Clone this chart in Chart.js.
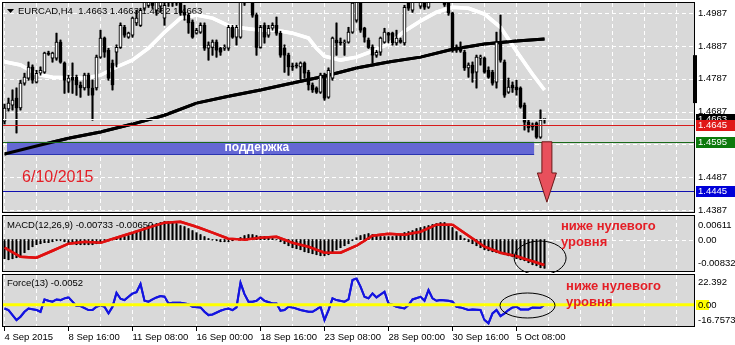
<!DOCTYPE html>
<html>
<head>
<meta charset="utf-8">
<script src="https://cdn.jsdelivr.net/npm/chart.js@4.4.0/dist/chart.umd.min.js"></script>
<style>
  body { margin: 0; background: #fff; width: 735px; height: 345px; overflow: hidden; position: relative; }
  canvas { position: absolute; left: 0; }
</style>
</head>
<body>
<canvas id="price" width="735" height="214" style="top:0"></canvas>
<canvas id="macd" width="735" height="59" style="top:214px"></canvas>
<canvas id="force" width="735" height="72" style="top:273px"></canvas>
<script>
// EURCAD H4 candles, bar 0 = 4 Sep 2015 00:00
const opens = [1.4658,1.4695,1.4707,1.4728,1.4698,1.4774,1.4789,1.4823,1.4777,1.4804,
  1.4807,1.4865,1.4850,1.4850,1.4899,1.4835,1.4777,1.4792,1.4792,1.4768,
  1.4759,1.4798,1.4759,1.4759,1.4853,1.4911,1.4874,1.4835,1.4868,1.4883,
  1.4944,1.4914,1.4920,1.4957,1.4950,1.5002,1.5011,1.5036,1.4996,1.5008,
  1.4972,1.5021,1.5033,1.5018,1.5018,1.4990,1.4981,1.4960,1.4926,1.4929,
  1.4950,1.4880,1.4883,1.4899,1.4880,1.4880,1.4880,1.4944,1.4914,1.4914,
  1.5018,1.5036,1.5018,1.4981,1.4883,1.4950,1.4920,1.4941,1.4950,1.4926,
  1.4880,1.4859,1.4826,1.4829,1.4823,1.4835,1.4807,1.4768,1.4759,1.4746,
  1.4798,1.4731,1.4789,1.4905,1.4899,1.4896,1.4899,1.4929,1.4966,1.5027,
  1.4941,1.4905,1.4883,1.4859,1.4868,1.4899,1.4926,1.4926,1.4896,1.4905,
  1.4896,1.5021,1.4996,1.5033,1.5008,1.5021,1.5005,1.5027,1.5039,1.5036,
  1.5033,1.5018,1.4987,1.4880,1.4883,1.4868,1.4820,1.4829,1.4807,1.4850,
  1.4850,1.4813,1.4807,1.4777,1.4899,1.4838,1.4746,1.4768,1.4762,1.4759,
  1.4707,1.4655,1.4646,1.4652,1.4609,1.4663];
const highs = [1.4710,1.4728,1.4753,1.4759,1.4783,1.4804,1.4838,1.4829,1.4813,1.4823,
  1.4868,1.4871,1.4868,1.4926,1.4905,1.4838,1.4798,1.4835,1.4798,1.4777,
  1.4804,1.4804,1.4783,1.4859,1.4935,1.4914,1.4880,1.4844,1.4890,1.4957,
  1.4950,1.4929,1.4975,1.4996,1.5002,1.5045,1.5051,1.5045,1.5036,1.5033,
  1.5018,1.5045,1.5042,1.5039,1.5027,1.5011,1.4987,1.4966,1.4941,1.4957,
  1.4957,1.4899,1.4905,1.4905,1.4883,1.4890,1.4950,1.4950,1.4950,1.5051,
  1.5057,1.5051,1.5027,1.4987,1.4950,1.4957,1.4950,1.4957,1.4975,1.4932,
  1.4890,1.4865,1.4835,1.4835,1.4838,1.4838,1.4813,1.4774,1.4762,1.4804,
  1.4804,1.4820,1.4914,1.4957,1.4911,1.4905,1.4944,1.5036,1.5057,1.5042,
  1.4944,1.4911,1.4890,1.4874,1.4914,1.4941,1.4929,1.4929,1.4935,1.4911,
  1.5011,1.5039,1.5045,1.5057,1.5027,1.5027,1.5027,1.5051,1.5051,1.5045,
  1.5042,1.5027,1.4990,1.4890,1.4899,1.4874,1.4835,1.4838,1.4859,1.4859,
  1.4853,1.4823,1.4813,1.4929,1.4981,1.4844,1.4789,1.4777,1.4783,1.4762,
  1.4713,1.4661,1.4652,1.4655,1.4692,1.4663];
const lows = [1.4649,1.4689,1.4692,1.4622,1.4692,1.4768,1.4783,1.4774,1.4774,1.4798,
  1.4804,1.4859,1.4838,1.4844,1.4835,1.4743,1.4746,1.4743,1.4737,1.4731,
  1.4753,1.4737,1.4661,1.4753,1.4850,1.4853,1.4783,1.4753,1.4823,1.4880,
  1.4914,1.4911,1.4914,1.4950,1.4947,1.4996,1.5005,1.5002,1.4981,1.4990,
  1.4950,1.5008,1.5008,1.5011,1.4981,1.4966,1.4926,1.4911,1.4923,1.4926,
  1.4874,1.4844,1.4859,1.4853,1.4859,1.4874,1.4874,1.4911,1.4890,1.4911,
  1.5011,1.5021,1.4975,1.4859,1.4880,1.4896,1.4914,1.4935,1.4920,1.4853,
  1.4807,1.4798,1.4813,1.4820,1.4783,1.4789,1.4753,1.4746,1.4743,1.4743,
  1.4722,1.4728,1.4783,1.4859,1.4890,1.4859,1.4896,1.4926,1.4960,1.4929,
  1.4899,1.4880,1.4835,1.4853,1.4859,1.4896,1.4896,1.4890,1.4890,1.4896,
  1.4890,1.4996,1.4990,1.5027,1.5002,1.4999,1.5002,1.5021,1.5027,1.5021,
  1.5008,1.4981,1.4868,1.4868,1.4868,1.4813,1.4792,1.4777,1.4759,1.4829,
  1.4804,1.4789,1.4768,1.4759,1.4838,1.4731,1.4743,1.4746,1.4737,1.4698,
  1.4631,1.4625,1.4631,1.4606,1.4606,1.4652];
const closes = [1.4698,1.4713,1.4722,1.4698,1.4774,1.4792,1.4823,1.4783,1.4804,1.4813,
  1.4865,1.4862,1.4865,1.4899,1.4838,1.4783,1.4789,1.4783,1.4768,1.4759,
  1.4798,1.4759,1.4737,1.4853,1.4911,1.4868,1.4789,1.4768,1.4883,1.4950,
  1.4920,1.4926,1.4972,1.4972,1.4996,1.5033,1.5042,1.5011,1.5027,1.5021,
  1.5011,1.5036,1.5018,1.5030,1.4987,1.4981,1.4957,1.4914,1.4935,1.4950,
  1.4880,1.4890,1.4899,1.4874,1.4868,1.4883,1.4944,1.4914,1.4944,1.5021,
  1.5042,1.5027,1.4981,1.4883,1.4944,1.4914,1.4941,1.4950,1.4926,1.4859,
  1.4859,1.4823,1.4823,1.4826,1.4835,1.4804,1.4768,1.4753,1.4746,1.4798,
  1.4728,1.4813,1.4911,1.4896,1.4896,1.4899,1.4929,1.5018,1.5042,1.4935,
  1.4914,1.4883,1.4859,1.4868,1.4911,1.4929,1.4920,1.4896,1.4911,1.4899,
  1.5005,1.5002,1.5033,1.5045,1.5021,1.5005,1.5021,1.5042,1.5033,1.5027,
  1.5014,1.4987,1.4874,1.4874,1.4871,1.4820,1.4829,1.4804,1.4853,1.4853,
  1.4807,1.4792,1.4774,1.4899,1.4844,1.4737,1.4762,1.4759,1.4753,1.4701,
  1.4655,1.4637,1.4640,1.4609,1.4661,1.4663];

// moving averages (white = fast, black = slow), read at sample bars
const maFastBars = [0,4,8,12,16,20,24,28,32,36,40,44,48,52,56,60,64,68,72,76,78,80,84,88,92,96,100,104,108,112,116,120,124,128,132,135];
const maFast = [1.4839,1.4829,1.4801,1.4792,1.4790,1.4789,1.4798,1.4823,1.4844,1.4880,1.4929,1.4972,1.4981,1.4972,1.4949,1.4941,1.4935,1.4935,1.4926,1.4911,1.4880,1.4856,1.4844,1.4853,1.4871,1.4893,1.4932,1.4963,1.4990,1.5005,1.5002,1.4984,1.4944,1.4871,1.4801,1.4753];
const maSlowBars = [0,8,16,24,32,40,48,56,64,72,80,88,96,104,112,120,128,135];
const maSlow = [1.4558,1.4582,1.4606,1.4625,1.4649,1.4676,1.4713,1.4734,1.4753,1.4774,1.4795,1.4820,1.4838,1.4853,1.4877,1.4893,1.4902,1.4908];

// MACD(12,26,9): main as histogram, signal as line
const macdHist = [-0.00490,-0.00516,-0.00490,-0.00464,-0.00413,-0.00335,-0.00258,-0.00181,-0.00129,-0.00103,
  -0.00077,-0.00077,-0.00052,-0.00026,-0.00026,-0.00052,-0.00077,-0.00103,-0.00129,-0.00129,
  -0.00129,-0.00129,-0.00129,-0.00103,-0.00052,-0.00026,-0.00026,0.00005,0.00026,0.00052,
  0.00077,0.00103,0.00155,0.00206,0.00258,0.00310,0.00361,0.00387,0.00413,0.00439,
  0.00464,0.00464,0.00439,0.00413,0.00361,0.00335,0.00284,0.00232,0.00181,0.00129,
  0.00077,0.00026,-0.00005,-0.00026,-0.00052,-0.00052,-0.00052,-0.00026,0.00005,0.00052,
  0.00103,0.00129,0.00129,0.00103,0.00077,0.00077,0.00052,0.00026,-0.00005,-0.00052,
  -0.00103,-0.00155,-0.00206,-0.00232,-0.00258,-0.00310,-0.00335,-0.00361,-0.00387,-0.00413,
  -0.00413,-0.00387,-0.00310,-0.00258,-0.00206,-0.00155,-0.00103,-0.00026,0.00052,0.00103,
  0.00129,0.00155,0.00129,0.00103,0.00077,0.00077,0.00077,0.00077,0.00103,0.00129,
  0.00181,0.00206,0.00232,0.00284,0.00310,0.00335,0.00361,0.00387,0.00413,0.00439,
  0.00439,0.00387,0.00310,0.00206,0.00103,0.00026,-0.00052,-0.00103,-0.00155,-0.00206,
  -0.00258,-0.00284,-0.00310,-0.00335,-0.00361,-0.00387,-0.00413,-0.00439,-0.00490,-0.00516,
  -0.00542,-0.00593,-0.00645,-0.00671,-0.00722,-0.00733];
const signalBars = [0,4,8,12,16,20,24,28,32,36,40,44,48,52,56,60,64,68,72,76,80,84,88,92,96,100,104,108,112,116,120,124,128,132,135];
const signalVals = [-0.00206,-0.00439,-0.00464,-0.00284,-0.00103,-0.00052,-0.00077,0.00052,0.00181,0.00310,
  0.00439,0.00464,0.00335,0.00181,0.00026,0,0.00052,0.00077,-0.00077,-0.00181,
  -0.00335,-0.00335,-0.00155,0.00103,0.00155,0.00129,0.00206,0.00387,0.00387,0.00103,
  -0.00181,-0.00335,-0.00426,-0.00555,-0.00650];

// Force(13)
const forceBars = [0,1,3,4,5,6,8,9,10,11,12,13,14,15,16,17,18,19,21,22,23,24,25,26,27,28,29,30,
  31,32,33,34,35,36,37,38,39,40,41,42,44,46,47,49,50,51,52,54,55,56,57,58,59,60,61,62,63,64,65,
  67,68,69,70,71,72,74,76,77,78,79,80,81,82,83,85,86,87,88,89,90,91,92,93,95,96,97,98,
  100,101,102,104,105,106,107,108,109,111,112,113,114,116,117,119,120,121,122,123,124,125,126,127,128,129,131,132,134,135];
const forceVals = [-2.8,-4.0,-11.5,-9.0,-5.3,-2.8,-4.0,-5.3,4.0,3.0,2.3,4.0,3.5,4.8,5.5,2.3,-1.0,-1.0,
  -4.0,-4.0,-1.5,-0.5,-1.5,-6.5,-1.5,9.0,4.5,3.5,
  6.0,8.5,9.5,15.6,3.0,2.3,4.0,5.5,6.5,6.0,1.0,1.5,
  1.5,0.5,-1.5,-2.0,-5.3,-7.8,-7.3,
  -4.5,-3.5,-2.8,-4.0,-2.0,16.6,8.0,2.3,2.3,3.0,5.5,3.0,
  1.0,1.0,-4.5,-4.0,-1.5,-2.0,
  -4.0,-5.3,-5.3,-3.5,-1.5,-11.5,-4.0,4.8,3.5,
  2.3,4.0,18.6,19.8,13.6,6.0,4.8,8.5,5.5,
  9.8,1.0,0,-1.5,-2.8,-0.25,4.0,
  6.0,3.0,11.0,4.8,3.0,3.5,3.0,2.3,-1.5,-2.0,-4.0,-3.5,
  -4.0,-11.5,-14.0,-6.5,-4.0,-8.5,-6.5,-4.0,-2.0,-1.5,-3.5,-3.5,-2.0,-2.3,-0.0052];

// axes
const priceTicks = [1.4387,1.4487,1.4587,1.4687,1.4787,1.4887,1.4987];
const macdTicks = [0.00611, 0, -0.00832];
const macdTickText = ['0.00611', '0.00', '-0.00832'];
const forceTicks = [22.392, 0, -16.7573];
const forceTickText = ['22.392', '0.00', '-16.7573'];
const gridBars = [0,8,16,24,32,40,48,56,64,72,80,88,96,104,112,120,128,136,144,152,160,168];
const xLabelBars = [0,16,32,48,64,80,96,112,128];
const xLabels = ['4 Sep 2015','8 Sep 16:00','11 Sep 08:00','16 Sep 00:00','18 Sep 16:00','23 Sep 08:00','28 Sep 00:00','30 Sep 16:00','5 Oct 08:00'];

// price levels on the right
const levelPrices = [1.4663, 1.4645, 1.4595, 1.4445];
const levelColors = ['#000000', '#e01818', '#0c7a0c', '#0000d8'];
const levelLines = ['#ffffff', '#d81c1c', '#1a6a1a', '#1010b0'];

const FONT = "'Liberation Sans', Arial, sans-serif";
const PANEL_BG = '#d9d9d9';
Chart.defaults.font.family = FONT;
Chart.defaults.font.size = 9.5;
Chart.defaults.color = '#000';

function noPad(s) { s.paddingTop = 0; s.paddingBottom = 0; s.paddingLeft = 0; s.paddingRight = 0; }

function xScale(showLabels) {
  return {
    type: 'linear', min: -0.375, max: 172.625, offset: false,
    afterBuildTicks: s => { s.ticks = gridBars.map(v => ({ value: v })); },
    afterFit: s => { s.height = showLabels ? 18 : 0; noPad(s); },
    grid: { display: false, drawTicks: showLabels, tickLength: 4 },
    border: { display: false },
    ticks: {
      display: showLabels, autoSkip: false, maxRotation: 0, minRotation: 0, align: 'start', padding: 1,
      callback: v => { const k = xLabelBars.indexOf(v); return k < 0 ? '' : xLabels[k]; }
    }
  };
}

function yScale(min, max, gridTicks, showLabels, cb) {
  return {
    type: 'linear', position: 'right', min: min, max: max,
    afterBuildTicks: s => { s.ticks = gridTicks.map(v => ({ value: v })); },
    afterFit: s => { s.width = 40; noPad(s); },
    grid: { display: false, drawTicks: false },
    border: { display: false },
    ticks: { display: showLabels, autoSkip: false, padding: 3, callback: cb }
  };
}

// dashed white grid, positioned through the scales
function strokeGrid(chart, yVals) {
  const { ctx, chartArea: a, scales: { x, y } } = chart;
  ctx.save();
  ctx.strokeStyle = '#ffffff';
  ctx.lineWidth = 1;
  ctx.setLineDash([4, 3]);
  gridBars.forEach(b => {
    const px = Math.floor(x.getPixelForValue(b)) + 0.5;
    if (px <= a.left || px >= a.right) return;
    ctx.beginPath(); ctx.moveTo(px, a.top); ctx.lineTo(px, a.bottom); ctx.stroke();
  });
  yVals.forEach(v => {
    const py = Math.round(y.getPixelForValue(v)) + 0.5;
    if (py <= a.top || py >= a.bottom) return;
    ctx.beginPath(); ctx.moveTo(a.left, py); ctx.lineTo(a.right, py); ctx.stroke();
  });
  ctx.restore();
}

// draw the datasets again (clipped) so they sit in front of the grid
function redrawDatasets(chart) {
  const { ctx, chartArea: a } = chart;
  const metas = chart.getSortedVisibleDatasetMetas();
  ctx.save();
  ctx.beginPath();
  ctx.rect(a.left, a.top, a.right - a.left, a.bottom - a.top);
  ctx.clip();
  for (let i = metas.length - 1; i >= 0; --i) metas[i].controller.draw();
  ctx.restore();
}

function panelPlugin(extra) {
  return {
    id: 'panel',
    beforeDraw(chart) {
      const { ctx, chartArea: a } = chart;
      ctx.save();
      ctx.fillStyle = '#fff';
      ctx.fillRect(0, 0, chart.width, chart.height);
      ctx.fillStyle = PANEL_BG;
      ctx.fillRect(a.left, a.top, a.right - a.left, a.bottom - a.top);
      ctx.restore();
    },
    afterDatasetsDraw(chart) {
      strokeGrid(chart, extra.gridY);
      if (extra.under) extra.under(chart);
      redrawDatasets(chart);
      if (extra.over) extra.over(chart);
    },
    afterDraw(chart) {
      const { ctx, chartArea: a } = chart;
      ctx.save();
      ctx.strokeStyle = '#000';
      ctx.lineWidth = 1;
      ctx.strokeRect(a.left - 0.5, a.top - 0.5, a.right - a.left, a.bottom - a.top);
      if (extra.outside) extra.outside(chart);
      ctx.restore();
    }
  };
}

function label(ctx, str, x, y, font, color, align) {
  ctx.font = font;
  ctx.fillStyle = color;
  ctx.textAlign = align || 'left';
  ctx.textBaseline = 'middle';
  ctx.fillText(str, x, y);
}

function sideLabels(chart, vals, strs, pad, hiliteZero) {
  const { ctx, chartArea: a, scales } = chart;
  vals.forEach((v, i) => {
    let y = Math.round(scales.y.getPixelForValue(v));
    y = Math.min(Math.max(y, a.top + pad), a.bottom - pad);
    if (hiliteZero && v === 0) {
      ctx.fillStyle = '#ffff00';
      ctx.fillRect(a.right + 1, y - 5, 13, 10);
    }
    label(ctx, strs[i], a.right + 3, y, '9.5px ' + FONT, '#000');
  });
}

const bars = opens.map((_, i) => i);

// ---------- price window ----------
new Chart(document.getElementById('price'), {
  type: 'bar',
  data: {
    datasets: [
      { type: 'line', data: maFastBars.map((b, i) => ({ x: b, y: maFast[i] })), borderColor: '#ffffff', borderWidth: 3.5, pointRadius: 0, tension: 0, fill: false, order: 5 },
      { type: 'line', data: maSlowBars.map((b, i) => ({ x: b, y: maSlow[i] })), borderColor: '#000000', borderWidth: 3, pointRadius: 0, tension: 0, fill: false, order: 4 },
      { data: bars.map(i => ({ x: i, y: [lows[i], highs[i]] })), backgroundColor: '#000', barThickness: 1, grouped: false, order: 3 },
      { data: bars.map(i => ({ x: i, y: [opens[i], closes[i]] })), backgroundColor: bars.map(i => (closes[i] >= opens[i] ? '#fff' : '#000')),
        borderColor: '#000', borderWidth: 1, borderSkipped: false, barThickness: 3, minBarLength: 1, grouped: false, order: 2 }
    ]
  },
  options: {
    responsive: false, animation: false, devicePixelRatio: 1, events: [],
    layout: { padding: { left: 3, top: 3, right: 0, bottom: 1 } },
    plugins: { legend: { display: false }, tooltip: { enabled: false } },
    scales: {
      x: xScale(false),
      y: yScale(1.4378, 1.5018, priceTicks, true, v => (Math.abs(v - 1.4587) < 1e-6 ? '' : v.toFixed(4)))
    }
  },
  plugins: [panelPlugin({
    gridY: priceTicks,
    under(chart) {
      const { ctx, scales: { x, y } } = chart;
      ctx.save();
      // support zone
      const x0 = x.getPixelForValue(0.625), x1 = x.getPixelForValue(132.4);
      const y0 = y.getPixelForValue(1.4595), y1 = y.getPixelForValue(1.4555);
      ctx.fillStyle = '#6468d4';
      ctx.fillRect(x0, y0, x1 - x0, y1 - y0);
      ctx.strokeStyle = '#2a34b0';
      ctx.beginPath(); ctx.moveTo(x0, Math.round(y1) - 0.5); ctx.lineTo(x1, Math.round(y1) - 0.5); ctx.stroke();
      label(ctx, 'поддержка', x.getPixelForValue(63.1), y.getPixelForValue(1.4576), 'bold 12px ' + FONT, '#fff', 'center');
      // header
      ctx.fillStyle = '#000';
      ctx.beginPath(); ctx.moveTo(7, 9); ctx.lineTo(14, 9); ctx.lineTo(10.5, 13); ctx.closePath(); ctx.fill();
      label(ctx, 'EURCAD,H4  1.4663 1.4663 1.4652 1.4663', 18, 11, '9.5px ' + FONT, '#000');
      ctx.restore();
    },
    over(chart) {
      const { ctx, chartArea: a, scales: { x, y } } = chart;
      ctx.save();
      levelPrices.forEach((p, i) => {
        const py = Math.round(y.getPixelForValue(p)) + 0.5;
        ctx.strokeStyle = levelLines[i];
        ctx.lineWidth = 1;
        ctx.beginPath(); ctx.moveTo(a.left, py); ctx.lineTo(a.right, py); ctx.stroke();
      });
      // down arrow
      const ax = x.getPixelForValue(135.6);
      const at = y.getPixelForValue(1.4595), ah = y.getPixelForValue(1.4500), ap = y.getPixelForValue(1.4411);
      ctx.beginPath();
      ctx.moveTo(ax - 5, at); ctx.lineTo(ax + 5, at); ctx.lineTo(ax + 5, ah); ctx.lineTo(ax + 9.5, ah);
      ctx.lineTo(ax, ap); ctx.lineTo(ax - 9.5, ah); ctx.lineTo(ax - 5, ah); ctx.closePath();
      ctx.fillStyle = '#e8505c'; ctx.fill();
      ctx.strokeStyle = '#6a1818'; ctx.lineWidth = 1; ctx.stroke();
      label(ctx, '6/10/2015', x.getPixelForValue(4.4), y.getPixelForValue(1.4486), '16px ' + FONT, '#e41e26');
      ctx.restore();
    },
    outside(chart) {
      const { ctx, chartArea: a, scales: { y } } = chart;
      levelPrices.forEach((p, i) => {
        const py = Math.round(y.getPixelForValue(p));
        ctx.fillStyle = levelColors[i];
        ctx.fillRect(a.right + 1, py - 5, chart.width - a.right - 1, 11);
        label(ctx, p.toFixed(4), a.right + 3, py + 0.5, '9.5px ' + FONT, '#fff');
      });
      ctx.fillStyle = '#000';
      const t = y.getPixelForValue(1.4859), b = y.getPixelForValue(1.4713);
      ctx.fillRect(a.right - 2, t, 4, b - t);
    }
  })]
});

// ---------- MACD window ----------
new Chart(document.getElementById('macd'), {
  type: 'bar',
  data: {
    datasets: [
      { type: 'line', data: signalBars.map((b, i) => ({ x: b, y: signalVals[i] })), borderColor: '#e01010', borderWidth: 2.5, pointRadius: 0, tension: 0, fill: false, order: 1 },
      { data: bars.map(i => ({ x: i, y: macdHist[i] })), backgroundColor: '#000', barThickness: 1, grouped: false, order: 2 }
    ]
  },
  options: {
    responsive: false, animation: false, devicePixelRatio: 1, events: [],
    layout: { padding: { left: 3, top: 2, right: 0, bottom: 1 } },
    plugins: { legend: { display: false }, tooltip: { enabled: false } },
    scales: { x: xScale(false), y: yScale(-0.00832, 0.00611, [0], false) }
  },
  plugins: [panelPlugin({
    gridY: [0],
    under(chart) {
      label(chart.ctx, 'MACD(12,26,9) -0.00733 -0.00650', 7, chart.chartArea.top + 9, '9.5px ' + FONT, '#000');
    },
    over(chart) {
      const { ctx, scales: { x, y } } = chart;
      ctx.save();
      ctx.strokeStyle = '#000'; ctx.lineWidth = 1;
      ctx.beginPath(); ctx.ellipse(x.getPixelForValue(133.9), y.getPixelForValue(-0.00471), 26, 17, 0, 0, Math.PI * 2); ctx.stroke();
      label(ctx, 'ниже нулевого', x.getPixelForValue(139.1), y.getPixelForValue(0.00353), 'bold 13px ' + FONT, '#e41e26');
      label(ctx, 'уровня', x.getPixelForValue(139.1), y.getPixelForValue(-0.00059), 'bold 13px ' + FONT, '#e41e26');
      ctx.restore();
    },
    outside(chart) { sideLabels(chart, macdTicks, macdTickText, 9, false); }
  })]
});

// ---------- Force window ----------
new Chart(document.getElementById('force'), {
  type: 'line',
  data: {
    datasets: [
      { data: forceBars.map((b, i) => ({ x: b, y: forceVals[i] })), borderColor: '#1414e0', borderWidth: 2, pointRadius: 0, tension: 0, fill: false }
    ]
  },
  options: {
    responsive: false, animation: false, devicePixelRatio: 1, events: [],
    layout: { padding: { left: 3, top: 2, right: 0, bottom: 0 } },
    plugins: { legend: { display: false }, tooltip: { enabled: false } },
    scales: { x: xScale(true), y: yScale(-16.7573, 22.392, [0], false) }
  },
  plugins: [panelPlugin({
    gridY: [],
    under(chart) {
      label(chart.ctx, 'Force(13) -0.0052', 7, chart.chartArea.top + 8, '9.5px ' + FONT, '#000');
    },
    over(chart) {
      const { ctx, chartArea: a, scales: { x, y } } = chart;
      ctx.save();
      const zy = y.getPixelForValue(0);
      ctx.strokeStyle = '#ffff00'; ctx.lineWidth = 3;
      ctx.beginPath(); ctx.moveTo(a.left, zy); ctx.lineTo(a.right, zy); ctx.stroke();
      ctx.strokeStyle = '#000'; ctx.lineWidth = 1;
      ctx.beginPath(); ctx.ellipse(x.getPixelForValue(130.75), y.getPixelForValue(-0.57), 27.5, 12.5, 0, 0, Math.PI * 2); ctx.stroke();
      label(ctx, 'ниже нулевого', x.getPixelForValue(140.4), y.getPixelForValue(14.11), 'bold 13px ' + FONT, '#e41e26');
      label(ctx, 'уровня', x.getPixelForValue(140.4), y.getPixelForValue(2.06), 'bold 13px ' + FONT, '#e41e26');
      ctx.restore();
    },
    outside(chart) {
      const { ctx, chartArea: a, scales: { x } } = chart;
      sideLabels(chart, forceTicks, forceTickText, 7, true);
      // tick marks under the labelled dates
      ctx.fillStyle = '#000';
      xLabelBars.forEach(b => {
        const px = Math.floor(x.getPixelForValue(b));
        ctx.fillRect(px, Math.round(a.bottom), 1, 4);
      });
    }
  })]
});
</script>
</body>
</html>
